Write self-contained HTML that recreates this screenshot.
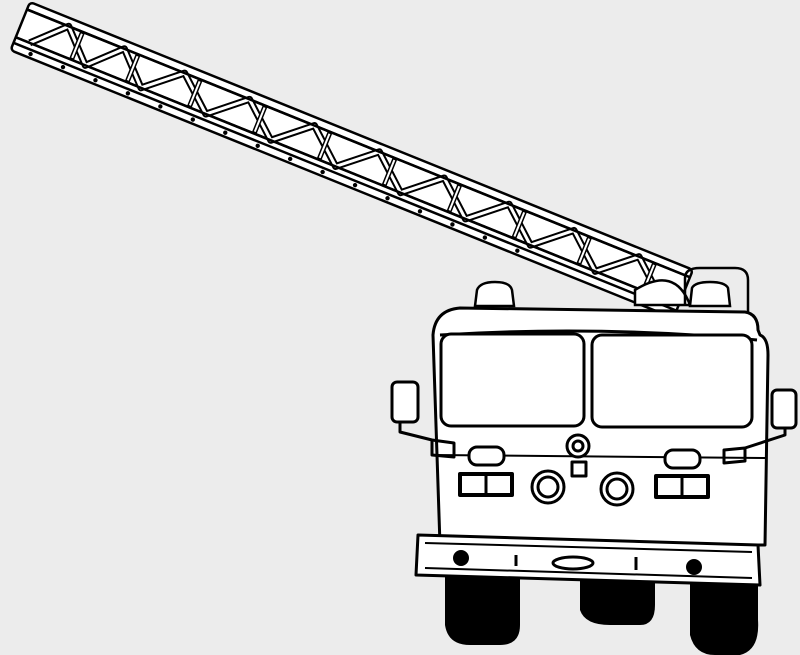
<!DOCTYPE html>
<html><head><style>
html,body{margin:0;padding:0;background:#ececec;}
svg{display:block}
</style></head><body>
<svg width="800" height="655" viewBox="0 0 800 655" xmlns="http://www.w3.org/2000/svg">
<rect width="800" height="655" fill="#ececec"/>
<!-- Ladder -->
<g transform="translate(30,2) rotate(22)" stroke="#000" stroke-width="2.5" fill="none" stroke-linejoin="round">
  <rect x="0" y="0" width="715" height="52" fill="#fff" rx="4"/>
  <line x1="0" y1="8" x2="715" y2="8"/>
  <line x1="0" y1="38" x2="715" y2="38"/>
  <line x1="0" y1="44" x2="715" y2="44"/>
  <g stroke-width="7">
    <path d="M15 38 L45 8 L75 38 L105 8 L135 38 L170 8 L205 38 L240 8 L275 38 L310 8 L345 38 L380 8 L415 38 L450 8 L485 38 L520 8 L555 38 L590 8 L625 38 L660 8 L695 38"/>
  </g>
  <g stroke="#fff" stroke-width="3">
    <path d="M15 38 L45 8 L75 38 L105 8 L135 38 L170 8 L205 38 L240 8 L275 38 L310 8 L345 38 L380 8 L415 38 L450 8 L485 38 L520 8 L555 38 L590 8 L625 38 L660 8 L695 38"/>
  </g>
  <g stroke-width="5">
    <line x1="60" y1="8" x2="60" y2="38"/><line x1="120" y1="8" x2="120" y2="38"/><line x1="187" y1="8" x2="187" y2="38"/><line x1="257" y1="8" x2="257" y2="38"/><line x1="327" y1="8" x2="327" y2="38"/><line x1="397" y1="8" x2="397" y2="38"/><line x1="467" y1="8" x2="467" y2="38"/><line x1="537" y1="8" x2="537" y2="38"/><line x1="607" y1="8" x2="607" y2="38"/><line x1="677" y1="8" x2="677" y2="38"/>
  </g>
  <g stroke="#fff" stroke-width="2">
    <line x1="60" y1="10" x2="60" y2="36"/><line x1="120" y1="10" x2="120" y2="36"/><line x1="187" y1="10" x2="187" y2="36"/><line x1="257" y1="10" x2="257" y2="36"/><line x1="327" y1="10" x2="327" y2="36"/><line x1="397" y1="10" x2="397" y2="36"/><line x1="467" y1="10" x2="467" y2="36"/><line x1="537" y1="10" x2="537" y2="36"/><line x1="607" y1="10" x2="607" y2="36"/><line x1="677" y1="10" x2="677" y2="36"/>
  </g>
  <line x1="0" y1="8" x2="715" y2="8"/>
  <line x1="0" y1="38" x2="715" y2="38"/>
  <g fill="#000" stroke="none">
    <circle cx="20" cy="48" r="2.2"/><circle cx="55" cy="48" r="2.2"/><circle cx="90" cy="48" r="2.2"/><circle cx="125" cy="48" r="2.2"/><circle cx="160" cy="48" r="2.2"/><circle cx="195" cy="48" r="2.2"/><circle cx="230" cy="48" r="2.2"/><circle cx="265" cy="48" r="2.2"/><circle cx="300" cy="48" r="2.2"/><circle cx="335" cy="48" r="2.2"/><circle cx="370" cy="48" r="2.2"/><circle cx="405" cy="48" r="2.2"/><circle cx="440" cy="48" r="2.2"/><circle cx="475" cy="48" r="2.2"/><circle cx="510" cy="48" r="2.2"/><circle cx="545" cy="48" r="2.2"/>
  </g>
</g>
<!-- ladder support arm -->
<g stroke="#000" stroke-width="2.5" fill="#fff">
  <path d="M635 290 Q675 265 690 305 L635 305 Z"/>
  <path d="M685 305 L685 278 Q685 268 700 268 L735 268 Q748 268 748 280 L748 312" fill="none"/>
</g>
<!-- wheels -->
<g fill="#000">
  <path d="M445 575 L445 625 Q448 645 470 645 L500 645 Q520 645 520 625 L520 575 Z"/>
  <path d="M580 575 L580 610 Q585 625 610 625 L640 625 Q655 625 655 605 L655 575 Z"/>
  <path d="M690 575 L690 635 Q695 655 715 655 L740 655 Q760 650 758 620 L758 575 Z"/>
</g>
<!-- Beacons -->
<g stroke="#000" stroke-width="2.5" fill="#fff">
  <path d="M475 306 L477 290 Q480 282 495 282 Q510 282 512 290 L514 306 Z"/>
  <path d="M690 306 L692 288 Q695 282 710 282 Q725 282 728 288 L730 306 Z"/>
</g>
<!-- Cab -->
<g stroke="#000" stroke-width="3" fill="#fff" stroke-linejoin="round">
  <path d="M440 545 L433 335 Q435 310 460 308 L745 312 Q758 314 758 330 L760 335 Q768 338 768 355 L765 545 Z"/>
  <path d="M440 335 Q600 325 757 340" fill="none"/>
  <rect x="441" y="334" width="143" height="92" rx="10"/>
  <rect x="592" y="335" width="160" height="92" rx="10"/>
  <line x1="433" y1="455" x2="765" y2="458" stroke-width="2"/>
  <rect x="469" y="447" width="35" height="18" rx="8"/>
  <rect x="665" y="450" width="35" height="18" rx="8"/>
  <circle cx="578" cy="446" r="11"/>
  <circle cx="578" cy="446" r="5"/>
  <rect x="572" y="462" width="14" height="14"/>
  <rect x="460" y="474" width="52" height="21" stroke-width="4"/>
  <line x1="486" y1="476" x2="486" y2="493"/>
  <rect x="656" y="476" width="52" height="21" stroke-width="4"/>
  <line x1="682" y1="478" x2="682" y2="495"/>
  <circle cx="548" cy="487" r="16"/><circle cx="548" cy="487" r="10"/>
  <circle cx="617" cy="489" r="16"/><circle cx="617" cy="489" r="10"/>
  <rect x="392" y="382" width="26" height="40" rx="5"/>
  <path d="M400 422 L400 432 L432 440 L432 455 L454 457 L454 443 L432 440" fill="none"/>
  <rect x="772" y="390" width="24" height="38" rx="5"/>
  <path d="M785 428 L785 435 L745 448 L724 450 L724 463 L745 461 L745 448" fill="none"/>
  <path d="M418 535 L758 545 L760 585 L416 575 Z"/>
  <line x1="425" y1="543" x2="752" y2="552" stroke-width="2"/>
  <line x1="425" y1="568" x2="752" y2="578" stroke-width="2"/>
  <ellipse cx="573" cy="563" rx="20" ry="6"/>
  <line x1="516" y1="555" x2="516" y2="566"/>
  <line x1="636" y1="557" x2="636" y2="570"/>
</g>
<circle cx="461" cy="558" r="8" fill="#000"/>
<circle cx="694" cy="567" r="8" fill="#000"/>
</svg>
</body></html>
